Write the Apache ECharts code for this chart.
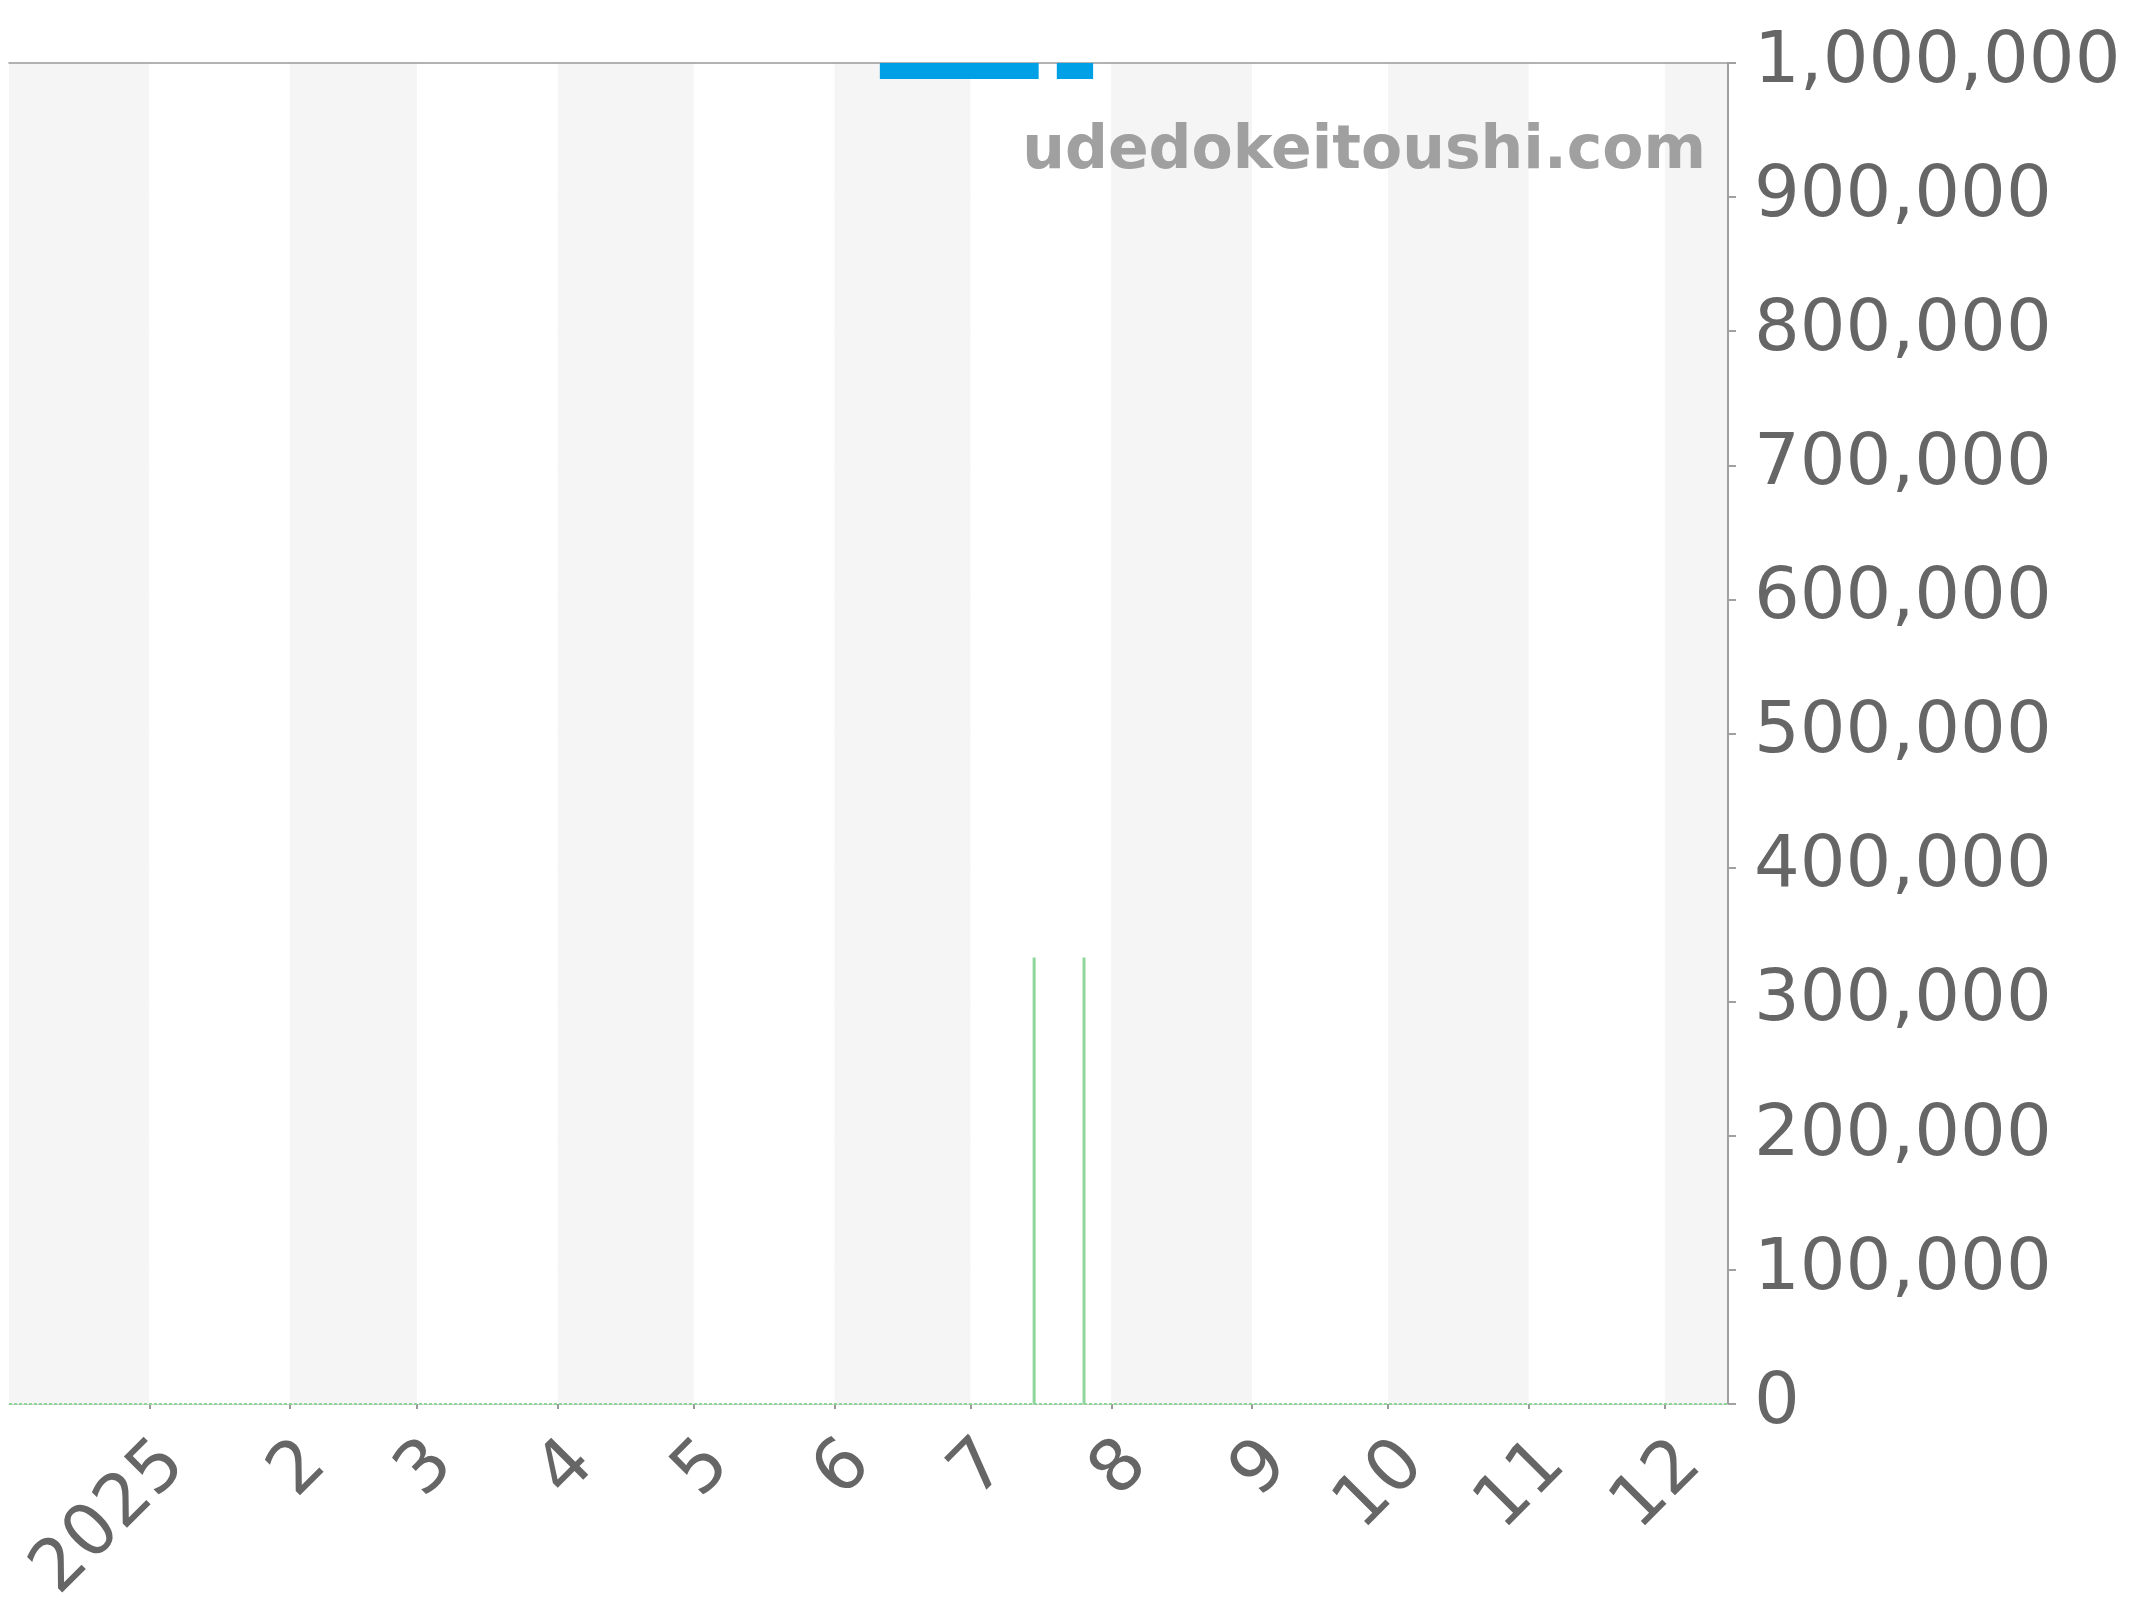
<!DOCTYPE html>
<html>
<head>
<meta charset="utf-8">
<script src="https://cdn.jsdelivr.net/npm/echarts@6/dist/echarts.min.js"></script>
<style>
  html, body { margin: 0; padding: 0; background: #ffffff; }
  #chart { width: 2144px; height: 1600px; }
</style>
</head>
<body>
<div id="chart"></div>
<script>
// ---- data ----
const xMin = '2024-12-01T10:00:00';
const xMax = '2025-12-14T14:00:00';
const monthLabels = ['2025', '2', '3', '4', '5', '6', '7', '8', '9', '10', '11', '12'];
const priceDates = ['2025-06-11', '2025-07-16', '2025-07-18', '2025-07-20', '2025-07-28'];
const priceValues = [994000, 994000, null, 994000, 994000];
const volumeDates = ['2025-07-15', '2025-07-26'];
const volumeValues = [333000, 333000];
const yMin = 0;
const yMax = 1000000;
const yStep = 100000;
const watermark = 'udedokeitoushi.com';

const FONT = 'DejaVu Sans';
const chart = echarts.init(document.getElementById('chart'), null, { renderer: 'canvas' });

const priceData = priceDates.map((d, i) => [d, priceValues[i]]);
const volumeData = volumeDates.map((d, i) => [d, volumeValues[i]]);

chart.setOption({
  animation: false,
  backgroundColor: '#ffffff',
  grid: { left: 9, right: 416, top: 63, bottom: 196, containLabel: false, outerBoundsMode: 'none' },
  xAxis: [{
    type: 'time',
    min: xMin,
    max: xMax,
    splitNumber: 11,
    axisLine: { show: true, onZero: false, lineStyle: { color: '#cccccc', width: 1 } },
    axisTick: { show: true, length: 5, lineStyle: { color: '#999999', width: 2 } },
    axisLabel: {
      show: true,
      rotate: 45,
      margin: 24,
      verticalAlign: 'top',
      fontFamily: FONT,
      fontSize: 72,
      color: '#666666',
      showMinLabel: false,
      showMaxLabel: false,
      formatter: function (value) {
        const d = new Date(value);
        if (d.getDate() === 1 && d.getHours() === 0) return monthLabels[d.getMonth()];
        return '';
      }
    },
    splitLine: { show: false },
    splitArea: { show: true, areaStyle: { color: ['#f5f5f5', '#ffffff'] } }
  }, {
    type: 'value',
    position: 'top',
    min: 0,
    max: 1,
    axisLine: { show: true, onZero: false, lineStyle: { color: '#999999', width: 1.5 } },
    axisTick: { show: false },
    axisLabel: { show: false },
    splitLine: { show: false }
  }],
  yAxis: {
    type: 'value',
    position: 'right',
    min: yMin,
    max: yMax,
    interval: yStep,
    axisLine: { show: true, onZero: false, lineStyle: { color: '#a0a0a0', width: 2 } },
    axisTick: { show: true, length: 8, lineStyle: { color: '#a0a0a0', width: 2 } },
    axisLabel: {
      margin: 26,
      padding: [4, 0, 0, 0],
      fontFamily: FONT,
      fontSize: 72,
      color: '#666666',
      formatter: v => v.toLocaleString('en-US')
    },
    splitLine: { show: true, lineStyle: { color: '#e6e6e6', width: 1 } }
  },
  graphic: [{
    type: 'text',
    x: 1706,
    y: 152,
    z: 100,
    style: {
      text: watermark,
      font: 'bold 60px "DejaVu Sans"',
      fill: '#a0a0a0',
      align: 'right',
      verticalAlign: 'middle'
    }
  }],
  series: [{
    name: 'volume',
    type: 'bar',
    xAxisIndex: 0,
    data: volumeData,
    barWidth: 3,
    itemStyle: { color: '#8fd69b' },
    markLine: {
      silent: true,
      symbol: 'none',
      label: { show: false },
      lineStyle: { color: '#8fd69b', width: 2, type: [3, 2] },
      data: [{ yAxis: 0 }]
    }
  }, {
    name: 'price',
    type: 'line',
    xAxisIndex: 0,
    data: priceData,
    showSymbol: false,
    connectNulls: false,
    lineStyle: { color: '#00a0e6', width: 16, cap: 'butt' },
    itemStyle: { color: '#00a0e6' }
  }]
});
</script>
</body>
</html>
